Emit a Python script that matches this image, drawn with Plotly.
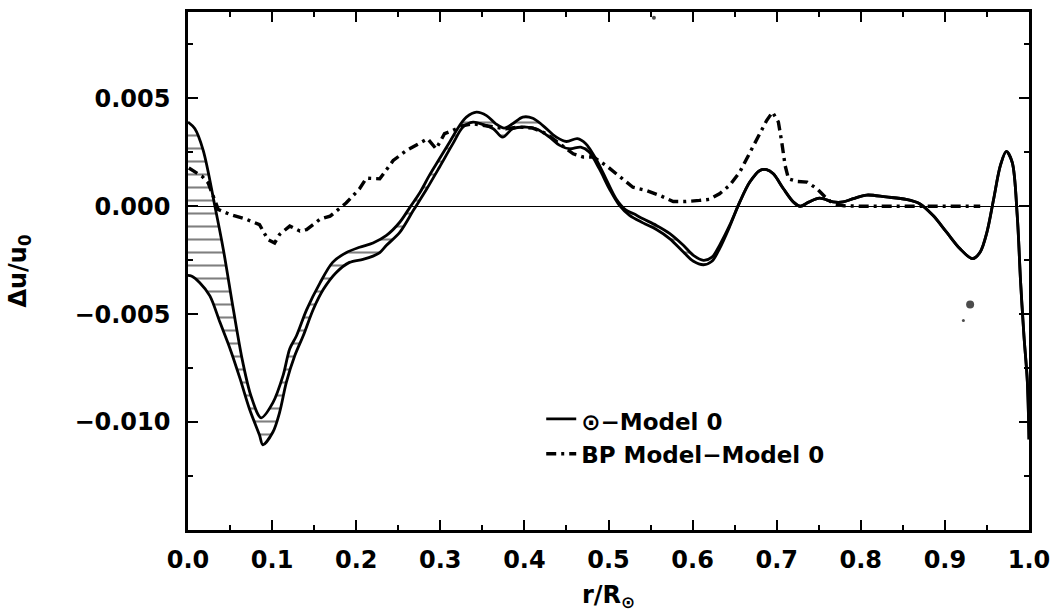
import plotly.graph_objects as go

# ---- data ----
# Sun - Model 0 : upper edge of the error band
sun_hi_r = [0.000, 0.008, 0.018, 0.032, 0.042, 0.054, 0.065, 0.075, 0.087, 0.101,
            0.113, 0.121, 0.129, 0.141, 0.157, 0.172, 0.188, 0.204, 0.220, 0.236,
            0.252, 0.264, 0.276, 0.287, 0.299, 0.311, 0.323, 0.331, 0.343, 0.355,
            0.366, 0.376, 0.386, 0.398, 0.410, 0.422, 0.438, 0.450, 0.463, 0.473,
            0.485, 0.497, 0.509, 0.520, 0.530, 0.541, 0.557, 0.573, 0.589, 0.601,
            0.613, 0.623, 0.632, 0.644, 0.656, 0.668, 0.680, 0.688, 0.696, 0.708,
            0.720, 0.728, 0.738, 0.751, 0.767, 0.779, 0.791, 0.807, 0.830, 0.854,
            0.870, 0.886, 0.902, 0.918, 0.933, 0.942, 0.950, 0.958, 0.966, 0.973,
            0.980, 0.986, 0.990, 0.994, 0.998, 1.000]
sun_hi_du = [3.90, 3.60, 2.60, 0.00, -2.00, -4.80, -7.20, -8.80, -9.80, -9.10,
             -7.85, -6.60, -6.00, -4.80, -3.55, -2.60, -2.15, -1.90, -1.70, -1.35,
             -0.73, -0.04, 0.65, 1.43, 2.20, 2.97, 3.74, 4.13, 4.36, 4.20,
             3.82, 3.62, 3.82, 4.13, 4.08, 3.74, 3.20, 3.00, 3.13, 2.90,
             2.20, 1.27, 0.35, -0.15, -0.35, -0.58, -0.89, -1.27, -1.81, -2.28,
             -2.51, -2.36, -1.81, -0.89, 0.19, 1.12, 1.66, 1.70, 1.50, 0.81,
             0.19, 0.00, 0.19, 0.38, 0.20, 0.20, 0.35, 0.52, 0.43, 0.32,
             0.12, -0.43, -1.20, -1.97, -2.43, -2.12, -1.20, 0.34, 1.89, 2.54,
             2.04, -0.43, -3.50, -6.00, -8.10, -10.80]

# Sun - Model 0 : lower edge of the error band
sun_lo_r = [0.000, 0.004, 0.014, 0.026, 0.038, 0.050, 0.062, 0.073, 0.085, 0.089,
            0.101, 0.109, 0.117, 0.127, 0.137, 0.149, 0.161, 0.176, 0.192, 0.208,
            0.220, 0.228, 0.236, 0.252, 0.268, 0.284, 0.299, 0.315, 0.327, 0.339,
            0.351, 0.363, 0.374, 0.386, 0.402, 0.414, 0.430, 0.442, 0.454, 0.467,
            0.477, 0.489, 0.501, 0.513, 0.525, 0.541, 0.557, 0.573, 0.589, 0.601,
            0.613, 0.623, 0.632, 0.644, 0.656, 0.668, 0.680, 0.688, 0.696, 0.708,
            0.720, 0.728, 0.738, 0.751, 0.767, 0.779, 0.791, 0.807, 0.830, 0.854,
            0.870, 0.886, 0.902, 0.918, 0.933, 0.942, 0.950, 0.958, 0.966, 0.973,
            0.980, 0.986, 0.990, 0.994, 0.998, 1.000]
sun_lo_du = [-3.20, -3.23, -3.54, -4.15, -5.38, -6.60, -8.00, -9.38, -10.60, -11.05,
             -10.46, -9.54, -8.15, -6.92, -6.00, -4.77, -3.85, -3.08, -2.60, -2.46,
             -2.31, -2.15, -1.81, -1.20, -0.19, 0.81, 1.81, 2.90, 3.67, 3.90,
             3.78, 3.59, 3.20, 3.59, 3.67, 3.59, 3.20, 2.82, 2.66, 2.74,
             2.51, 1.74, 0.81, 0.04, -0.42, -0.77, -1.08, -1.51, -2.12, -2.55,
             -2.71, -2.55, -1.97, -0.95, 0.19, 1.12, 1.66, 1.70, 1.50, 0.81,
             0.19, 0.00, 0.19, 0.38, 0.20, 0.20, 0.35, 0.52, 0.43, 0.32,
             0.12, -0.43, -1.20, -1.97, -2.43, -2.12, -1.20, 0.34, 1.89, 2.54,
             2.04, -0.43, -3.50, -6.00, -8.10, -10.80]

# BP Model - Model 0
bp_r = [0.001, 0.017, 0.024, 0.030, 0.036, 0.050, 0.069, 0.085, 0.095, 0.103,
        0.109, 0.121, 0.133, 0.141, 0.157, 0.169, 0.181, 0.188, 0.204, 0.212,
        0.228, 0.244, 0.260, 0.271, 0.285, 0.295, 0.305, 0.315, 0.327, 0.339,
        0.351, 0.366, 0.378, 0.394, 0.410, 0.426, 0.442, 0.458, 0.470, 0.482,
        0.497, 0.513, 0.529, 0.545, 0.561, 0.577, 0.592, 0.608, 0.620, 0.632,
        0.644, 0.656, 0.668, 0.680, 0.688, 0.695, 0.702, 0.706, 0.710, 0.714,
        0.724, 0.736, 0.748, 0.757, 0.767, 0.780, 0.800, 0.850, 0.900, 0.942]
bp_du = [1.77, 1.38, 1.08, 0.46, -0.15, -0.38, -0.60, -0.85, -1.54, -1.70,
         -1.30, -0.92, -1.15, -1.08, -0.60, -0.46, -0.08, 0.15, 0.81, 1.30,
         1.27, 2.12, 2.59, 2.82, 3.13, 2.66, 3.36, 3.51, 3.74, 3.82,
         3.74, 3.67, 3.59, 3.67, 3.62, 3.36, 2.90, 2.43, 2.28, 2.28,
         1.89, 1.40, 0.88, 0.73, 0.50, 0.22, 0.22, 0.27, 0.32, 0.58,
         0.97, 1.58, 2.50, 3.43, 3.97, 4.36, 3.90, 2.97, 1.89, 1.27,
         1.15, 1.12, 0.81, 0.45, 0.12, 0.02, 0.00, 0.00, 0.00, 0.00]

# isolated specks printed on the original figure
speck_r = [0.930, 0.922, 0.554]
speck_du = [-4.55, -5.29, 8.73]
speck_size = [8, 3, 4]

x_ticks = [0.0, 0.1, 0.2, 0.3, 0.4, 0.5, 0.6, 0.7, 0.8, 0.9, 1.0]
y_ticks = [-0.010, -0.005, 0.000, 0.005]

scale = 1e-3
FONT = "DejaVu Sans"

fig = go.Figure()

fig.add_trace(go.Scatter(
    x=sun_lo_r, y=[v * scale for v in sun_lo_du], mode="lines",
    line=dict(color="black", width=2.8, shape="spline", smoothing=0.9),
    showlegend=False, hoverinfo="skip"))

fig.add_trace(go.Scatter(
    x=sun_hi_r, y=[v * scale for v in sun_hi_du], mode="lines",
    name="\u2299\u2212Model 0",
    line=dict(color="black", width=2.8, shape="spline", smoothing=0.9),
    fill="tonexty", fillcolor="rgba(0,0,0,0)",
    fillpattern=dict(shape="-", fgcolor="black", bgcolor="rgba(0,0,0,0)",
                     size=13, solidity=0.16)))

fig.add_trace(go.Scatter(
    x=bp_r, y=[v * scale for v in bp_du], mode="lines",
    name="BP Model\u2212Model 0",
    line=dict(color="black", width=3.4, dash="10px,5px,3px,5px")))

fig.add_trace(go.Scatter(
    x=speck_r, y=[v * scale for v in speck_du], mode="markers",
    marker=dict(color="black", size=speck_size, line=dict(width=0)),
    showlegend=False, hoverinfo="skip"))

TICKFONT = dict(family=FONT, size=24, color="black", weight="bold")

axis_common = dict(
    showline=True, linecolor="black", linewidth=2.5, mirror="allticks",
    ticks="inside", ticklen=10, tickwidth=1.5, tickcolor="black",
    showgrid=False, tickfont=TICKFONT,
)

fig.update_xaxes(
    range=[0, 1], tickvals=x_ticks, tickformat=".1f",
    minor=dict(dtick=0.05, tick0=0, ticks="inside", ticklen=5, tickwidth=1.5,
               tickcolor="black", showgrid=False),
    ticklabelstandoff=6,
    title=dict(text="r/R<sub>\u2299</sub>", font=TICKFONT, standoff=14),
    zeroline=False,
    **axis_common)

fig.update_yaxes(
    range=[-0.015, 0.009], tickvals=y_ticks, tickformat=".3f",
    minor=dict(dtick=0.0025, tick0=0, ticks="inside", ticklen=5, tickwidth=1.5,
               tickcolor="black", showgrid=False),
    ticklabelstandoff=10,
    title=dict(text="\u0394u/u<sub>0</sub>", font=TICKFONT, standoff=42),
    zeroline=True, zerolinecolor="black", zerolinewidth=1,
    **axis_common)

fig.update_layout(
    width=1053, height=613,
    margin=dict(l=188, r=24, t=12, b=83, autoexpand=False),
    paper_bgcolor="white", plot_bgcolor="white",
    font=dict(family=FONT, size=24, color="black"),
    legend=dict(x=0.42, y=0.252, xanchor="left", yanchor="top",
                traceorder="normal",
                bgcolor="rgba(0,0,0,0)", borderwidth=0,
                font=dict(family=FONT, size=23, color="black", weight="bold"),
                tracegroupgap=0),
)

fig.write_html("out.html")
